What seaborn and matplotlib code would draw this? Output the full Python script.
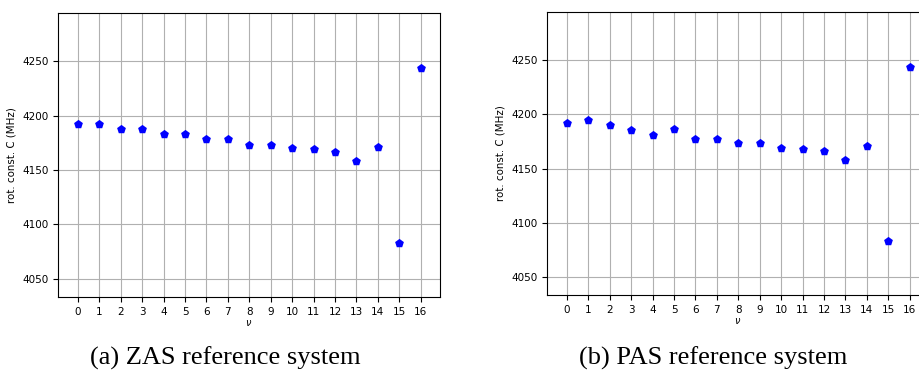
import pandas as pd
import seaborn as sns
import matplotlib.pyplot as plt

# vibrational state index
nu = list(range(17))

# rotational constant C (MHz), ZAS reference system
c_zas = [4192.8, 4192.8, 4187.6, 4187.6, 4183.3, 4183.3, 4178.4, 4178.4, 4173.5,
         4173.5, 4170.7, 4169.8, 4166.5, 4158.8, 4171.4, 4083.4, 4244.0]

# rotational constant C (MHz), PAS reference system
c_pas = [4191.6, 4195.0, 4190.1, 4185.5, 4180.6, 4186.1, 4177.2, 4177.5, 4173.6,
         4173.6, 4168.7, 4168.1, 4166.0, 4158.1, 4170.9, 4083.0, 4243.3]

captions = ["(a) ZAS reference system", "(b) PAS reference system"]

df = pd.DataFrame({"nu": nu, "ZAS": c_zas, "PAS": c_pas})

fig = plt.figure(figsize=(9.19, 3.74), dpi=100)

# axes placed by hand to match the two cropped panels
ax1 = fig.add_axes([0.0634, 0.2059, 0.4153, 0.7594])
ax2 = fig.add_axes([0.5955, 0.2104, 0.4153, 0.7583])

for ax, col in zip([ax1, ax2], ["ZAS", "PAS"]):
    sns.scatterplot(data=df, x="nu", y=col, ax=ax, marker="p", color="blue",
                    s=44, linewidth=0, zorder=3)
    ax.set_xticks(nu)
    ax.set_yticks([4050, 4100, 4150, 4200, 4250])
    ax.set_xlim(-0.92, 16.9)
    ax.set_ylim(4033.3, 4294.5)
    ax.grid(True, color="#b0b0b0", linewidth=0.8)
    ax.set_axisbelow(True)
    ax.tick_params(labelsize=7.5, length=3.5, width=0.8)
    ax.set_xlabel(r"$\nu$", fontsize=7, labelpad=1)
    ax.set_ylabel("rot. const. C (MHz)", fontsize=7.4)

fig.text(0.245, 0.042, captions[0], ha="center", va="center",
         family="Liberation Serif", fontsize=19)
fig.text(0.776, 0.042, captions[1], ha="center", va="center",
         family="Liberation Serif", fontsize=19)

fig.savefig("out.png", dpi=100)
